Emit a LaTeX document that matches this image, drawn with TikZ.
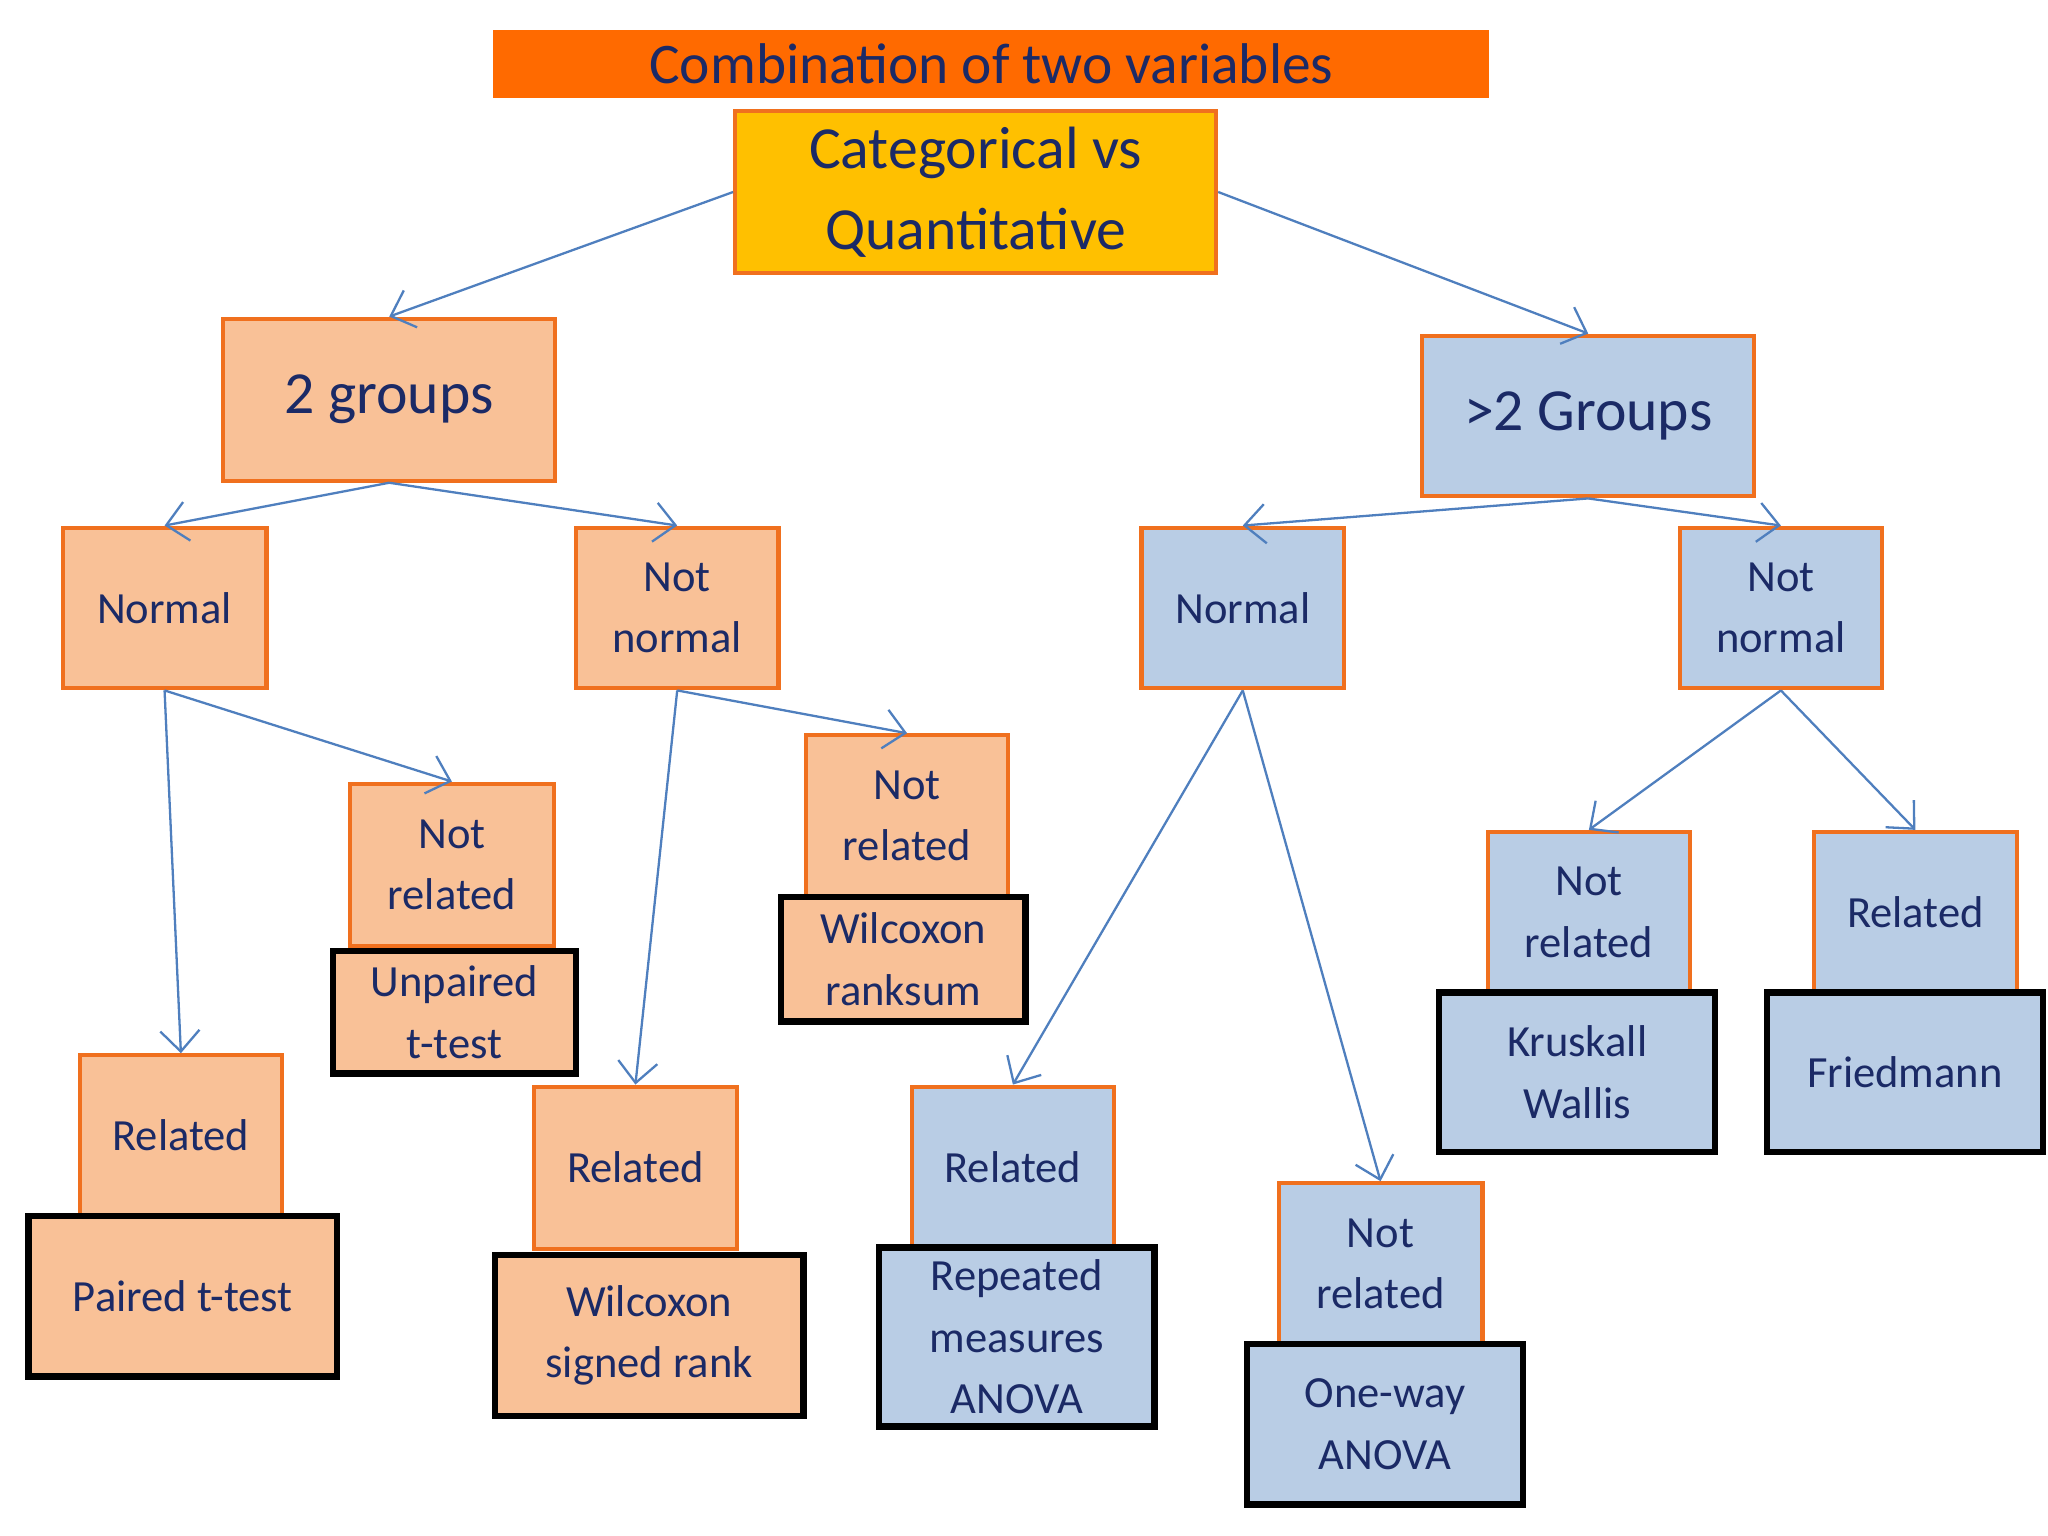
\documentclass[tikz,border=0pt]{standalone}
\usepackage{fontspec}
\setmainfont{Carlito}
\usetikzlibrary{arrows.meta}
\definecolor{navy}{HTML}{1B2A66}
\definecolor{peach}{HTML}{F9C197}
\definecolor{obord}{HTML}{F0701E}
\definecolor{lblue}{HTML}{B9CDE5}
\definecolor{titleor}{HTML}{FF6A00}
\definecolor{gold}{HTML}{FFC000}
\definecolor{arr}{HTML}{4F7FBE}
\tikzset{
 base/.style={rectangle,inner sep=0pt,text=navy,align=center,font=\fontsize{9.7}{13.4}\selectfont},
 ob/.style={base,fill=peach,draw=obord,line width=0.9pt},
 bb/.style={base,fill=lblue,draw=obord,line width=0.9pt},
 ores/.style={base,fill=peach,draw=black,line width=1.4pt},
 bres/.style={base,fill=lblue,draw=black,line width=1.4pt},
 con/.style={draw=arr,line width=0.5pt,-{Straight Barb[length=1.6mm,width=3mm]}},
}
\begin{document}
\begin{tikzpicture}[x=0.01cm,y=-0.01cm]
\useasboundingbox (0,0) rectangle (1568,1176);
\node[base,fill=titleor,minimum width=7.62cm,minimum height=0.52cm,font=\fontsize{12.5}{15}\selectfont] (title) at (759,49) {Combination of two variables};
\node[base,fill=gold,draw=obord,line width=0.9pt,minimum width=3.68cm,minimum height=1.24cm,font=\fontsize{13}{17.6}\selectfont] (cat) at (747,147) {Categorical vs\\Quantitative};
\node[ob,minimum width=2.54cm,minimum height=1.24cm,font=\fontsize{13}{17}\selectfont] (g2) at (298,306) {2 groups};
\node[bb,minimum width=2.54cm,minimum height=1.23cm,font=\fontsize{13}{17}\selectfont] (gg) at (1216,318.5) {>2 Groups};
\node[ob,minimum width=1.56cm,minimum height=1.23cm] (nL) at (126,465.5) {Normal};
\node[ob,minimum width=1.55cm,minimum height=1.23cm] (nnL) at (518.5,465.5) {Not\\normal};
\node[bb,minimum width=1.55cm,minimum height=1.23cm] (nR) at (951.5,465.5) {Normal};
\node[bb,minimum width=1.55cm,minimum height=1.23cm] (nnR) at (1363.5,465.5) {Not\\normal};
% left results
\node[ob,minimum width=1.56cm,minimum height=1.24cm] (nr1) at (346,662) {Not\\related};
\node[ores,minimum width=1.86cm,minimum height=0.94cm] (ut) at (348,775) {Unpaired\\t-test};
\node[ob,minimum width=1.55cm,minimum height=1.22cm] (r1) at (138.5,869) {Related};
\node[ores,minimum width=2.36cm,minimum height=1.23cm] (pt) at (140,992.5) {Paired t-test};
\node[ob,minimum width=1.55cm,minimum height=1.23cm] (nr2) at (694.5,624.5) {Not\\related};
\node[ores,minimum width=1.87cm,minimum height=0.95cm] (wr) at (691.5,734.5) {Wilcoxon\\ranksum};
\node[ob,minimum width=1.55cm,minimum height=1.24cm] (r2) at (486.5,894) {Related};
\node[ores,minimum width=2.36cm,minimum height=1.23cm] (ws) at (497,1022.5) {Wilcoxon\\signed rank};
% right results
\node[bb,minimum width=1.55cm,minimum height=1.23cm] (r3) at (775.5,893.5) {Related};
\node[bres,minimum width=2.11cm,minimum height=1.37cm] (rm) at (778.5,1023.5) {Repeated\\measures\\ANOVA};
\node[bb,minimum width=1.56cm,minimum height=1.23cm] (nr3) at (1057,967.5) {Not\\related};
\node[bres,minimum width=2.11cm,minimum height=1.23cm] (ow) at (1060.5,1090.5) {One-way\\ANOVA};
\node[bb,minimum width=1.55cm,minimum height=1.23cm] (nr4) at (1216.5,698.5) {Not\\related};
\node[bres,minimum width=2.11cm,minimum height=1.22cm] (kw) at (1207.5,821) {Kruskall\\Wallis};
\node[bb,minimum width=1.55cm,minimum height=1.23cm] (r4) at (1466.5,698.5) {Related};
\node[bres,minimum width=2.11cm,minimum height=1.22cm] (fr) at (1458.5,821) {Friedmann};
% connectors
\draw[con] (cat.west) -- (g2.north);
\draw[con] (cat.east) -- (gg.north);
\draw[con] (g2.south) -- (nL.north);
\draw[con] (g2.south) -- (nnL.north);
\draw[con] (gg.south) -- (nR.north);
\draw[con] (gg.south) -- (nnR.north);
\draw[con] (nL.south) -- (r1.north);
\draw[con] (nL.south) -- (nr1.north);
\draw[con] (nnL.south) -- (r2.north);
\draw[con] (nnL.south) -- (nr2.north);
\draw[con] (nR.south) -- (r3.north);
\draw[con] (nR.south) -- (nr3.north);
\draw[con] (nnR.south) -- (nr4.north);
\draw[con] (nnR.south) -- (r4.north);
\end{tikzpicture}
\end{document}
